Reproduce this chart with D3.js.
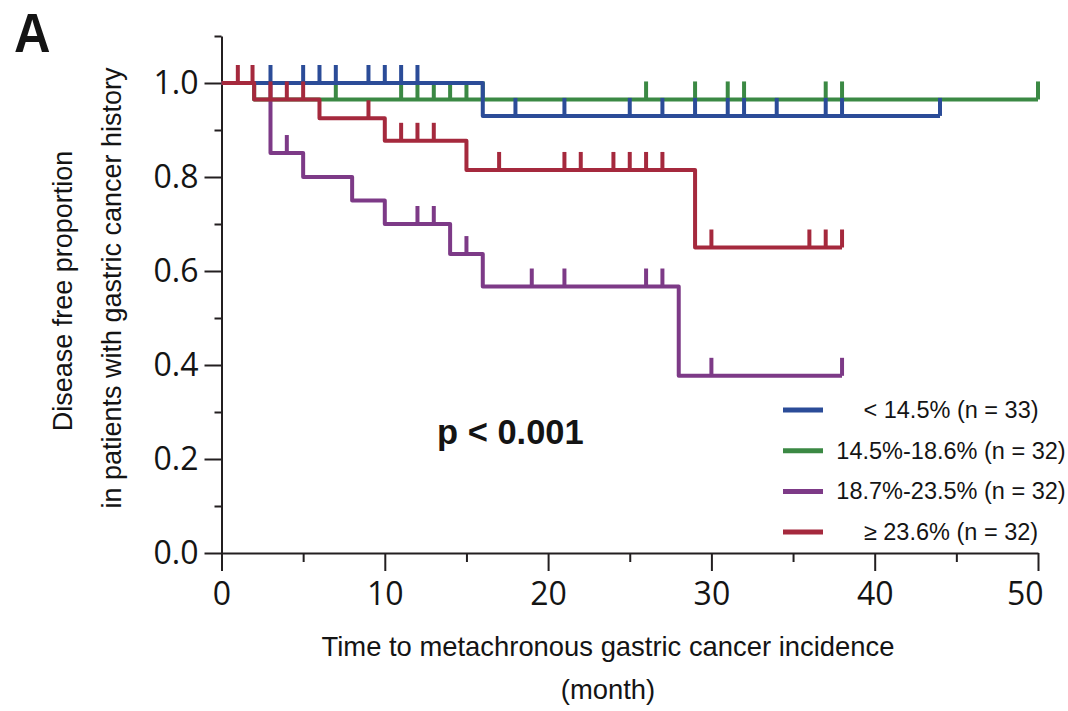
<!DOCTYPE html>
<html>
<head>
<meta charset="utf-8">
<script src="https://cdn.jsdelivr.net/npm/d3@7"></script>
<style>
  body { margin: 0; background: #fff; }
  svg text { fill: #141414; }
</style>
</head>
<body>
<div id="chart"></div>
<script>
// Kaplan-Meier curves (time in months, proportion after each step)
const groupLabels = ["< 14.5% (n = 33)", "14.5%-18.6% (n = 32)", "18.7%-23.5% (n = 32)", "\u2265 23.6% (n = 32)"];
const groupColors = ["#2b4c98", "#3b8944", "#7d3a87", "#a5293d"];

const blueTimes = [0, 16, 44];
const blueSurv = [1.0, 0.93, 0.93];
const blueCensor = [3, 5, 6, 7, 9, 10, 11, 12, 18, 21, 25, 27, 29, 31, 32, 34, 37, 38, 44];

const greenTimes = [0, 2, 50];
const greenSurv = [1.0, 0.965, 0.965];
const greenCensor = [7, 11, 12, 13, 14, 15, 16, 26, 29, 31, 32, 37, 38, 50];

const purpleTimes = [0, 3, 5, 8, 10, 14, 16, 28, 38];
const purpleSurv = [1.0, 0.851, 0.80, 0.75, 0.70, 0.636, 0.567, 0.377, 0.377];
const purpleCensor = [4, 12, 13, 15, 19, 21, 26, 27, 30, 38];

const redTimes = [0, 2, 6, 10, 15, 29, 38];
const redSurv = [1.0, 0.965, 0.925, 0.877, 0.815, 0.65, 0.65];
const redCensor = [1, 1.9, 3, 4, 5, 9, 11, 12, 13, 17, 21, 22, 24, 25, 26, 27, 30, 36, 37, 38];

const xTicks = [0, 10, 20, 30, 40, 50];
const xMinor = [5, 15, 25, 35, 45];
const yTicks = [0, 0.2, 0.4, 0.6, 0.8, 1.0];
const yMinor = [0.1, 0.3, 0.5, 0.7, 0.9, 1.1];

const series = [
  {name: groupLabels[0], color: groupColors[0], t: blueTimes, s: blueSurv, c: blueCensor},
  {name: groupLabels[1], color: groupColors[1], t: greenTimes, s: greenSurv, c: greenCensor},
  {name: groupLabels[2], color: groupColors[2], t: purpleTimes, s: purpleSurv, c: purpleCensor},
  {name: groupLabels[3], color: groupColors[3], t: redTimes, s: redSurv, c: redCensor}
];
// draw order as in the figure: green, purple, blue, red on top
const drawOrder = [1, 2, 0, 3];

const W = 1068, H = 711;
const svg = d3.select("#chart").append("svg")
  .attr("width", W).attr("height", H);

const x = d3.scaleLinear().domain([0, 50]).range([221.5, 1038]);
const y = d3.scaleLinear().domain([0, 1.1]).range([553, 36]);

const axisColor = "#231f20";
const tickFont = "'Open Sans', 'DejaVu Sans', sans-serif";
const textFont = "'Liberation Sans', Arial, Helvetica, sans-serif";

// minor ticks first
svg.append("g")
  .attr("transform", `translate(0,${y(0)})`)
  .call(d3.axisBottom(x).tickValues(xMinor).tickSize(9).tickSizeOuter(0).tickFormat(""))
  .call(g => g.select(".domain").remove());
svg.append("g")
  .attr("transform", `translate(${x(0)},0)`)
  .call(d3.axisLeft(y).tickValues(yMinor).tickSize(7).tickSizeOuter(0).tickFormat(""))
  .call(g => g.select(".domain").remove());

// X axis
const gx = svg.append("g")
  .attr("transform", `translate(0,${y(0)})`)
  .call(d3.axisBottom(x).tickValues(xTicks).tickSize(18).tickPadding(11).tickSizeOuter(0).tickFormat(d3.format("d")));
gx.selectAll("text")
  .style("font-family", tickFont)
  .style("font-size", "32px");
// last label sits flush with the axis end, as in the figure
gx.selectAll(".tick").filter(d => d === 50).select("text")
  .attr("text-anchor", "end")
  .attr("x", 5);

// Y axis
const gy = svg.append("g")
  .attr("transform", `translate(${x(0)},0)`)
  .call(d3.axisLeft(y).tickValues(yTicks).tickSize(17).tickPadding(6).tickSizeOuter(0).tickFormat(d3.format(".1f")));
gy.selectAll("text")
  .style("font-family", tickFont)
  .style("font-size", "32px");

svg.selectAll(".domain, .tick line")
  .attr("stroke", axisColor)
  .attr("stroke-width", 2);
svg.selectAll(".tick text").style("fill", "#141414");

// curves
const line = d3.line()
  .x(d => x(d[0]))
  .y(d => y(d[1]))
  .curve(d3.curveStepAfter);

function survAt(sr, t) {
  let v = sr.s[0];
  sr.t.forEach((tt, i) => { if (tt <= t) v = sr.s[i]; });
  return v;
}

drawOrder.forEach(k => {
  const sr = series[k];
  const g = svg.append("g");
  g.append("path")
    .datum(sr.t.map((t, i) => [t, sr.s[i]]))
    .attr("d", line)
    .attr("fill", "none")
    .attr("stroke", sr.color)
    .attr("stroke-width", 4)
    .attr("stroke-linejoin", "round");
  g.selectAll("line.cens")
    .data(sr.c)
    .join("line")
      .attr("class", "cens")
      .attr("x1", d => x(d))
      .attr("x2", d => x(d))
      .attr("y1", d => y(survAt(sr, d)))
      .attr("y2", d => y(survAt(sr, d)) - 18)
      .attr("stroke", sr.color)
      .attr("stroke-width", 4);
});

// legend
const legend = svg.append("g");
series.forEach((sr, i) => {
  const ly = 410 + i * 40.7;
  legend.append("line")
    .attr("x1", 783).attr("x2", 823)
    .attr("y1", ly).attr("y2", ly)
    .attr("stroke", sr.color)
    .attr("stroke-width", 5);
  legend.append("text")
    .attr("x", 951).attr("y", ly + 8)
    .attr("text-anchor", "middle")
    .style("font-family", textFont)
    .style("font-size", "23.5px")
    .text(sr.name);
});

// p value
svg.append("text")
  .attr("x", 437).attr("y", 444)
  .style("font-family", textFont)
  .style("font-size", "34.5px")
  .style("font-weight", "bold")
  .text("p < 0.001");

// axis titles
svg.append("text")
  .attr("x", 608).attr("y", 656)
  .attr("text-anchor", "middle")
  .style("font-family", textFont)
  .style("font-size", "27.4px")
  .text("Time to metachronous gastric cancer incidence");
svg.append("text")
  .attr("x", 608).attr("y", 699)
  .attr("text-anchor", "middle")
  .style("font-family", textFont)
  .style("font-size", "27.4px")
  .text("(month)");

svg.append("text")
  .attr("transform", "translate(72,291) rotate(-90)")
  .attr("text-anchor", "middle")
  .style("font-family", textFont)
  .style("font-size", "27px")
  .text("Disease free proportion");
svg.append("text")
  .attr("transform", "translate(121,288) rotate(-90)")
  .attr("text-anchor", "middle")
  .style("font-family", textFont)
  .style("font-size", "27px")
  .text("in patients with gastric cancer history");

// panel letter
svg.append("text")
  .attr("transform", "translate(14,52) scale(0.92,1)")
  .style("font-family", textFont)
  .style("font-size", "55px")
  .style("font-weight", "bold")
  .text("A");
</script>
</body>
</html>
